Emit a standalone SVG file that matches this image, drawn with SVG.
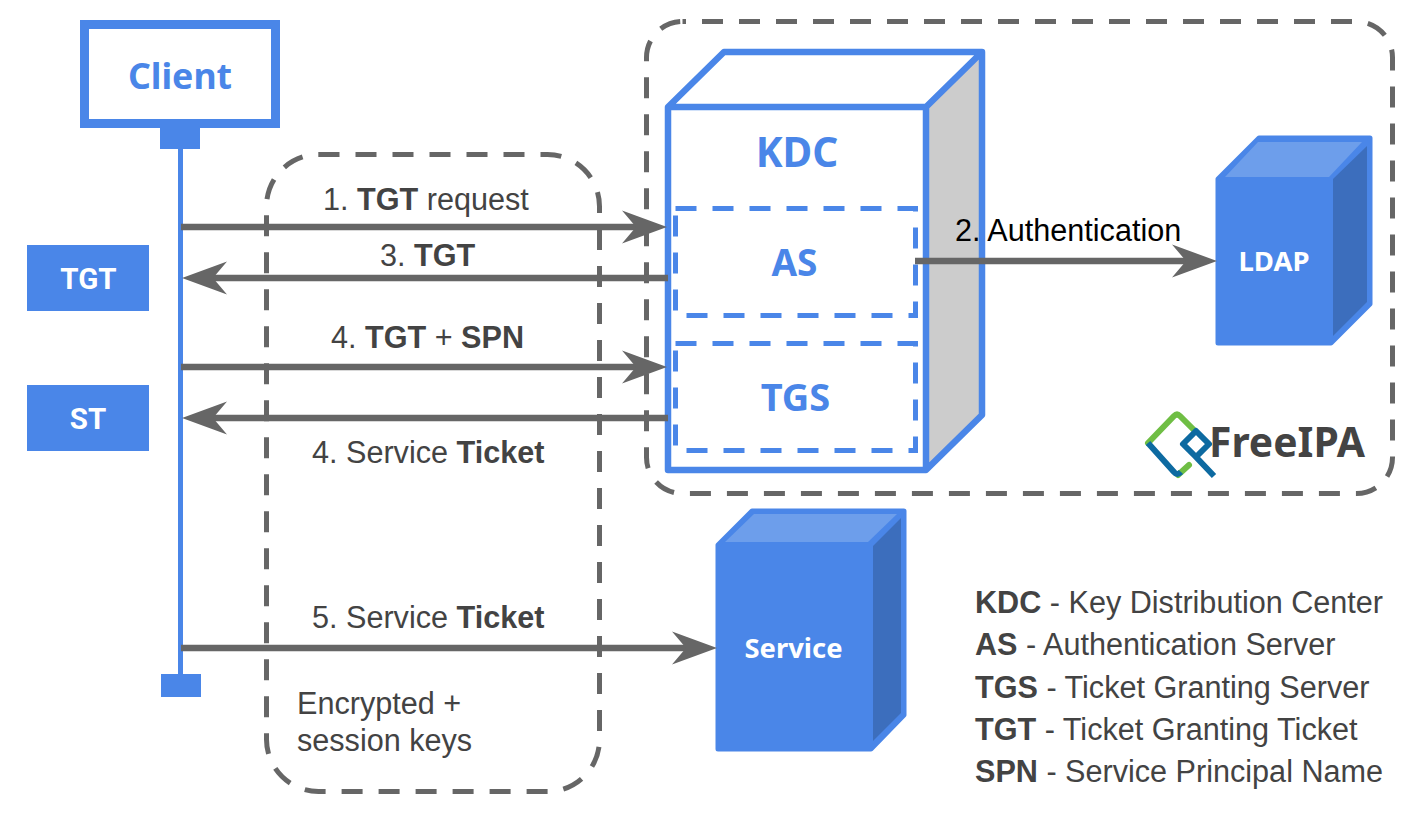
<svg xmlns="http://www.w3.org/2000/svg" width="1414" height="813" viewBox="0 0 1414 813">
<style>
text{font-family:"Liberation Sans",Arial,sans-serif;fill:#434343;font-size:30.6px}
.b{font-weight:700}
.n{font-family:"Noto Sans","Open Sans",sans-serif;font-weight:700;text-anchor:middle}
.blue{fill:#4a86e8}
.w{fill:#fff}
.r{font-family:Roboto,sans-serif;font-weight:700;text-anchor:middle;fill:#fff;font-size:29.5px}
.dash{fill:none;stroke:#666;stroke-width:5;stroke-dasharray:21 16}
.bdash{fill:none;stroke:#4a86e8;stroke-width:5;stroke-dasharray:21 16}
.conn{stroke:#666;stroke-width:6.5;fill:none}
.cube{stroke:#4a86e8;stroke-width:5;stroke-linejoin:round}
</style>
<defs>
<marker id="arr" markerUnits="userSpaceOnUse" markerWidth="46" markerHeight="36" refX="25" refY="18" orient="auto-start-reverse" overflow="visible">
<path d="M0 1.500 L45 18 L0 34.500 L14 18 Z" fill="#666"/>
</marker>
</defs>
<rect class="dash" x="646.5" y="21.5" width="746" height="472" rx="36" style="stroke-dashoffset:17.5"/>
<rect class="dash" x="266.5" y="154.5" width="333" height="637" rx="52"/>
<g id="lifeline">
<rect x="178" y="149" width="5" height="527" fill="#4a86e8"/>
<rect x="160" y="128" width="40" height="21" fill="#4a86e8"/>
<rect x="161" y="674" width="40" height="23" fill="#4a86e8"/>
</g>
<g id="client">
<rect x="84.500" y="24.500" width="191" height="99" fill="#fff" stroke="#4a86e8" stroke-width="9"/>
<text class="n blue" x="180" y="89" style="font-size:35.7px">Client</text>
</g>
<g id="tgt">
<rect x="27" y="245" width="122" height="66" fill="#4a86e8"/>
<text class="r" x="88.500" y="289">TGT</text>
</g>
<g id="st">
<rect x="27" y="385" width="122" height="66" fill="#4a86e8"/>
<text class="r" x="88" y="429">ST</text>
</g>
<g id="kdc">
<path d="M668 107 L724 52 H982 V415 L926 470 H668 Z" fill="#fff"/>
<path d="M926 107 L982 52 V415 L926 470 Z" fill="#ccc"/>
<path d="M668 107 L724 52 H982 V415 L926 470 H668 Z M668 107 H926 V470 M926 107 L982 52" fill="none" stroke="#4a86e8" stroke-width="6.500" stroke-linejoin="round"/>
<text class="n blue" x="797" y="167" style="font-size:40.5px">KDC</text>
</g>
<g id="as">
<rect class="bdash" x="675.500" y="208.500" width="240" height="107"/>
<text class="n blue" x="794.500" y="276" style="font-size:37px">AS</text>
</g>
<g id="tgs">
<rect class="bdash" x="675.500" y="343.500" width="240" height="107"/>
<text class="n blue" x="795.500" y="411" style="font-size:38px">TGS</text>
</g>
<g id="ldap">
<path class="cube" d="M1218 179 L1259 138 H1370 V304 L1331 343 H1218 Z" fill="#4a86e8"/>
<path d="M1225 177 L1258 142 H1362 L1329 177 Z" fill="#6d9eeb"/>
<path d="M1333 179 L1367 146 V302 L1333 336 Z" fill="#3c6ebd"/>
<text class="n w" x="1274" y="271" style="font-size:27.5px">LDAP</text>
</g>
<g id="service">
<path class="cube" d="M718 545 L752 511 H904 V715 L871 749 H718 Z" fill="#4a86e8"/>
<path d="M725 542 L754 514 H897 L868 542 Z" fill="#6d9eeb"/>
<path d="M873 546 L901 518 V713 L873 741 Z" fill="#3c6ebd"/>
<text class="n w" x="793.500" y="658" style="font-size:27.4px">Service</text>
</g>
<g id="connectors">
<path class="conn" d="M181 227 H647" marker-end="url(#arr)"/>
<path class="conn" d="M668 278 H202" marker-end="url(#arr)"/>
<path class="conn" d="M181 367 H647" marker-end="url(#arr)"/>
<path class="conn" d="M668 418 H202" marker-end="url(#arr)"/>
<path class="conn" d="M181 648 H697" marker-end="url(#arr)"/>
<path class="conn" d="M915 261 H1197" marker-end="url(#arr)"/>
</g>
<g id="labels">
<text x="323" y="210">1. <tspan class="b">TGT</tspan> request</text>
<text x="380" y="266">3. <tspan class="b">TGT</tspan></text>
<text x="331" y="348">4. <tspan class="b">TGT</tspan> + <tspan class="b">SPN</tspan></text>
<text x="312" y="463">4. Service <tspan class="b">Ticket</tspan></text>
<text x="312" y="628">5. Service <tspan class="b">Ticket</tspan></text>
<text x="955" y="241" style="fill:#000">2. Authentication</text>
<text x="297" y="714">Encrypted +</text>
<text x="297" y="751">session keys</text>
</g>
<g id="legend">
<text x="975" y="613"><tspan class="b">KDC</tspan> - Key Distribution Center</text>
<text x="975" y="655"><tspan class="b">AS</tspan> - Authentication Server</text>
<text x="975" y="698"><tspan class="b">TGS</tspan> - Ticket Granting Server</text>
<text x="975" y="740"><tspan class="b">TGT</tspan> - Ticket Granting Ticket</text>
<text x="975" y="782"><tspan class="b">SPN</tspan> - Service Principal Name</text>
</g>
<g id="freeipa">
<path d="M1148 443 L1174 416 Q1177 413 1180 416 L1194 430 M1178 475 L1189 465" fill="none" stroke="#6fbe44" stroke-width="6" stroke-linecap="round"/>
<path d="M1148 443 L1174 472 Q1177 476 1181 472 M1196 457 L1183 444 L1196 431 L1209 444 L1196 457 L1214 476" fill="none" stroke="#0d6aa1" stroke-width="6" stroke-linejoin="round"/>
<text x="1209" y="457" style="font-family:'Noto Sans',sans-serif;font-weight:700;font-size:40.8px">FreeIPA</text>
</g>
</svg>
